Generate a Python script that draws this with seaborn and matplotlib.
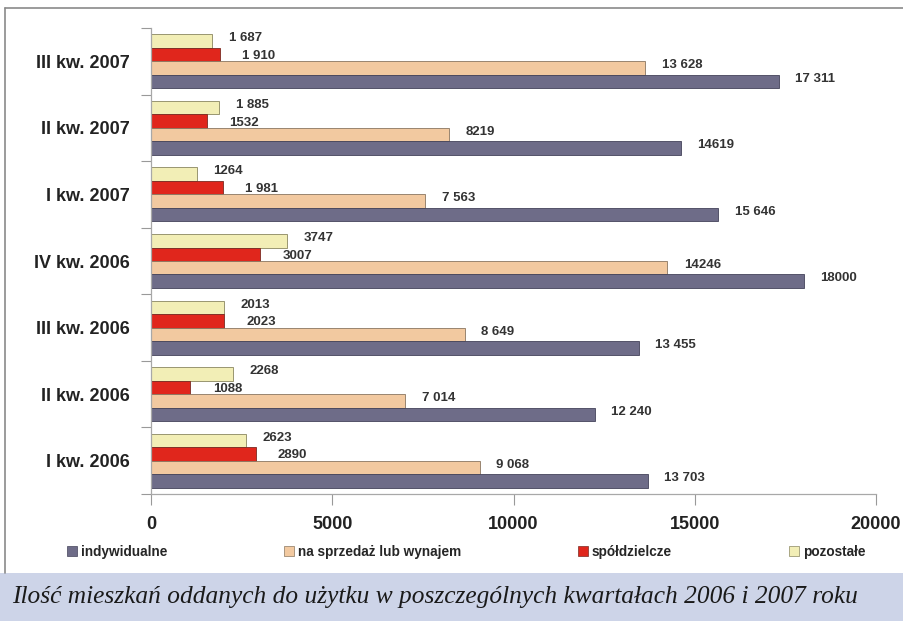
import pandas as pd
import matplotlib.pyplot as plt
import seaborn as sns
from matplotlib.patches import Patch, Rectangle
from matplotlib.lines import Line2D
from matplotlib.ticker import FixedLocator

# Quarters, top to bottom as in the chart
quarters = ['III kw. 2007', 'II kw. 2007', 'I kw. 2007', 'IV kw. 2006',
            'III kw. 2006', 'II kw. 2006', 'I kw. 2006']

# Series values (dwellings completed)
indywidualne = [17311, 14619, 15646, 18000, 13455, 12240, 13703]
na_sprzedaz = [13628, 8219, 7563, 14246, 8649, 7014, 9068]
spoldzielcze = [1910, 1532, 1981, 3007, 2023, 1088, 2890]
pozostale = [1687, 1885, 1264, 3747, 2013, 2268, 2623]

# Value labels as printed on the chart
lab_indywidualne = ['17 311', '14619', '15 646', '18000', '13 455', '12 240', '13 703']
lab_na_sprzedaz = ['13 628', '8219', '7 563', '14246', '8 649', '7 014', '9 068']
lab_spoldzielcze = ['1 910', '1532', '1 981', '3007', '2023', '1088', '2890']
lab_pozostale = ['1 687', '1 885', '1264', '3747', '2013', '2268', '2623']

series = ['pozostałe', 'spółdzielcze', 'na sprzedaż lub wynajem', 'indywidualne']
legend_order = ['indywidualne', 'na sprzedaż lub wynajem', 'spółdzielcze', 'pozostałe']
colors = {'indywidualne': '#6e6c88', 'na sprzedaż lub wynajem': '#f2c9a0',
          'spółdzielcze': '#e0261c', 'pozostałe': '#f2eeb6'}
edges = {'indywidualne': '#44435a', 'na sprzedaż lub wynajem': '#8a7660',
         'spółdzielcze': '#7a2a22', 'pozostałe': '#8a8660'}

values = {'pozostałe': pozostale, 'spółdzielcze': spoldzielcze,
          'na sprzedaż lub wynajem': na_sprzedaz, 'indywidualne': indywidualne}
labels = {'pozostałe': lab_pozostale, 'spółdzielcze': lab_spoldzielcze,
          'na sprzedaż lub wynajem': lab_na_sprzedaz, 'indywidualne': lab_indywidualne}

rows = []
for s in series:
    for q, v in zip(quarters, values[s]):
        rows.append({'Kwartał': q, 'Typ': s, 'Liczba': v})
df = pd.DataFrame(rows)

sns.set_style('white')
plt.rcParams['font.family'] = ['Liberation Sans', 'DejaVu Sans']

fig = plt.figure(figsize=(9.04, 6.21), dpi=100)
ax = fig.add_axes([151 / 904, 1 - 494 / 621, 725 / 904, 466 / 621])

sns.barplot(data=df, x='Liczba', y='Kwartał', hue='Typ', hue_order=series,
            order=quarters, palette=colors, orient='h', width=0.81,
            saturation=1, legend=False, ax=ax)

# Dark edge on each bar, and value labels
offsets = {'pozostałe': (12, 2), 'spółdzielcze': (16, -1),
           'na sprzedaż lub wynajem': (12, 2), 'indywidualne': (12, 2)}
for cont, s in zip(ax.containers, series):
    for bar in cont:
        bar.set_edgecolor(edges[s])
        bar.set_linewidth(0.6)
    texts = ax.bar_label(cont, labels=labels[s], fontsize=9.5,
                         fontweight='bold', color='#333333')
    for t in texts:
        t.xyann = offsets[s]

ax.set_xlim(0, 20000)
ax.set_ylim(6.5, -0.5)
ax.set_xticks([0, 5000, 10000, 15000, 20000])
ax.set_xticklabels(['0', '5000', '10000', '15000', '20000'])
ax.set_xlabel('')
ax.set_ylabel('')

# Y ticks at category boundaries, labels in between
ax.yaxis.set_minor_locator(FixedLocator([i - 0.5 for i in range(8)]))
ax.tick_params(axis='y', which='major', length=0, pad=15, labelsize=13)
ax.tick_params(axis='y', which='minor', length=7, width=0.8, color='#999999', direction='out', left=True)
ax.tick_params(axis='x', which='major', length=8, width=0.8, color='#999999', direction='out',
               pad=8, labelsize=13, bottom=True)
for lbl in ax.get_yticklabels() + ax.get_xticklabels():
    lbl.set_fontweight('bold')
    lbl.set_color('#222222')

for side in ['top', 'right']:
    ax.spines[side].set_visible(False)
for side in ['left', 'bottom']:
    ax.spines[side].set_color('#a8a8a8')
    ax.spines[side].set_linewidth(0.9)

# Legend
handles = [Patch(facecolor=colors[s], edgecolor=edges[s], linewidth=0.5) for s in legend_order]
fig.legend(handles, legend_order, loc='center left', bbox_to_anchor=(55 / 904, 1 - 552 / 621),
           ncol=4, frameon=False, handlelength=0.7, handleheight=0.7, handletextpad=0.3,
           columnspacing=8.6, prop={'weight': 'bold', 'size': 9.8})

# Outer frame lines
fig.add_artist(Line2D([5 / 904, 5 / 904], [1 - 573 / 621, 1 - 8 / 621], color='#8a8a8a', lw=1.2,
                      transform=fig.transFigure))
fig.add_artist(Line2D([5 / 904, 1], [1 - 8 / 621, 1 - 8 / 621], color='#8a8a8a', lw=1.2,
                      transform=fig.transFigure))

# Caption band
fig.add_artist(Rectangle((0, 0), 1, 48 / 621, facecolor='#cdd4e8', edgecolor='none',
                         transform=fig.transFigure))
fig.text(12 / 904, 1 - 597 / 621,
         'Ilość mieszkań oddanych do użytku w poszczególnych kwartałach 2006 i 2007 roku',
         family=['Liberation Serif', 'DejaVu Serif'], style='italic', fontsize=18.3,
         color='#1a1a1a', va='center', ha='left')

plt.savefig('out.png', dpi=100)
